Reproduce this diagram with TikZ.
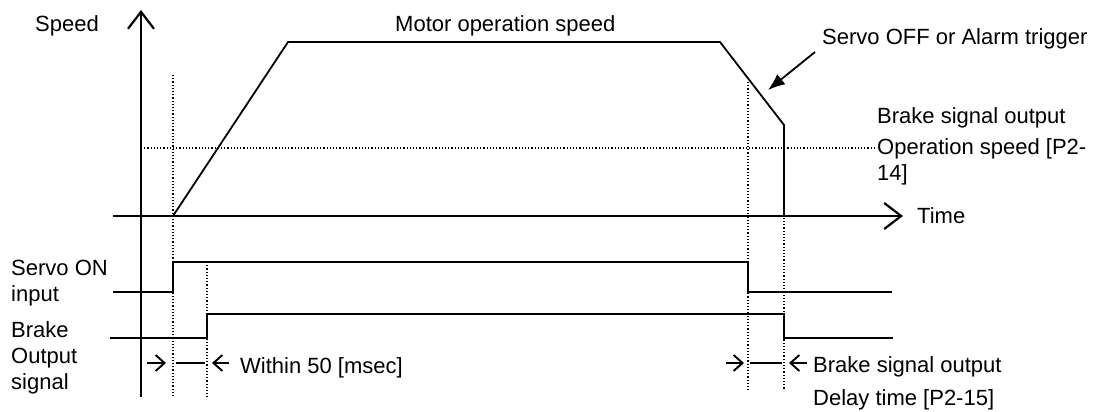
\documentclass[tikz,border=0pt]{standalone}
\usepackage{fontspec}
\setmainfont{Liberation Sans}
\usetikzlibrary{arrows.meta,positioning}

\begin{document}
\begin{tikzpicture}[
    x=1pt, y=-1pt,
    lbl/.style={anchor=base west, inner sep=0pt, align=left, font=\fontsize{22}{26}\selectfont},
    axis/.style={line width=2.2pt},
    sig/.style={line width=1.8pt},
    guide/.style={line width=1.2pt, dash pattern=on 1.2pt off 2pt},
    gaparr/.style={-{Straight Barb[length=9pt,width=16pt]}, line width=1.9pt}
]
\useasboundingbox (0,0) rectangle (1105,412);

% axes
\coordinate (ytop) at (141,10);
\coordinate (ybot) at (141,397);
\coordinate (xl) at (113,216);
\coordinate (xr) at (903,216);
\draw[axis, -{Straight Barb[length=17pt,width=26pt]}] (ybot) -- (ytop);
\draw[axis, -{Straight Barb[length=17pt,width=26pt]}] (xl) -- (xr);
\node[lbl] (speed) at (35,32) {Speed};
\node[lbl] (time) at (917,223) {Time};

% time marks
\coordinate (t0) at (173,216);
\coordinate (t1) at (207,262);
\coordinate (t2) at (748,216);
\coordinate (t3) at (784,125);

% speed profile
\coordinate (v1) at (288,42);
\coordinate (v2) at (720,42);
\draw[sig] (t0) -- (v1) -- (v2) -- (t3) -- (t3 |- xl);
\node[lbl] (motor) at (395,32) {Motor operation speed};

% brake speed level
\coordinate (lv0) at (141,148);
\coordinate (lv1) at (877,148);
\draw[guide] (lv0) -- (lv1);
\node[lbl] (bso) at (877,123) {Brake signal output};
\node[lbl] (p214) at (877,180) {Operation speed [P2-\\14]};

% trigger
\node[lbl] (alarm) at (822,45) {Servo OFF or Alarm trigger};
\coordinate (trgA) at (815,52);
\coordinate (trgB) at (768,90);
\draw[sig, -{Latex[length=17pt,width=13pt]}] (trgA) -- (trgB);

% guides
\draw[guide] (173,75) -- (173,397);
\draw[guide] (t1) -- (207,397);
\draw[guide] (748,82) -- (748,390);
\draw[guide] (t3) -- (784,390);

% servo on input
\coordinate (s0) at (113,292);
\coordinate (s1) at (892,292);
\draw[sig] (s0) -- (173,292) -- (173,262) -- (748,262) -- (748,292) -- (s1);
\node[lbl] (servo) at (11,301) {Servo ON\\input};

% brake output
\coordinate (b0) at (110,338);
\coordinate (b1) at (893,338);
\draw[sig] (b0) -- (207,338) -- (207,314) -- (784,314) -- (784,338) -- (b1);
\node[lbl] (brake) at (11,389) {Brake\\Output\\signal};

% intervals
\draw[gaparr] (147,363) -- (166,363);
\draw[line width=1.3pt] (176,363) -- (205,363);
\draw[gaparr] (229,363) -- (212,363);
\node[lbl] (within) at (240,373) {Within 50 [msec]};

\draw[gaparr] (726,363) -- (744,363);
\draw[line width=1.3pt] (750,363) -- (782,363);
\draw[gaparr] (807,363) -- (789,363);
\node[lbl] (delay) at (813,405) {Brake signal output\\[7pt]Delay time [P2-15]};
\end{tikzpicture}
\end{document}
